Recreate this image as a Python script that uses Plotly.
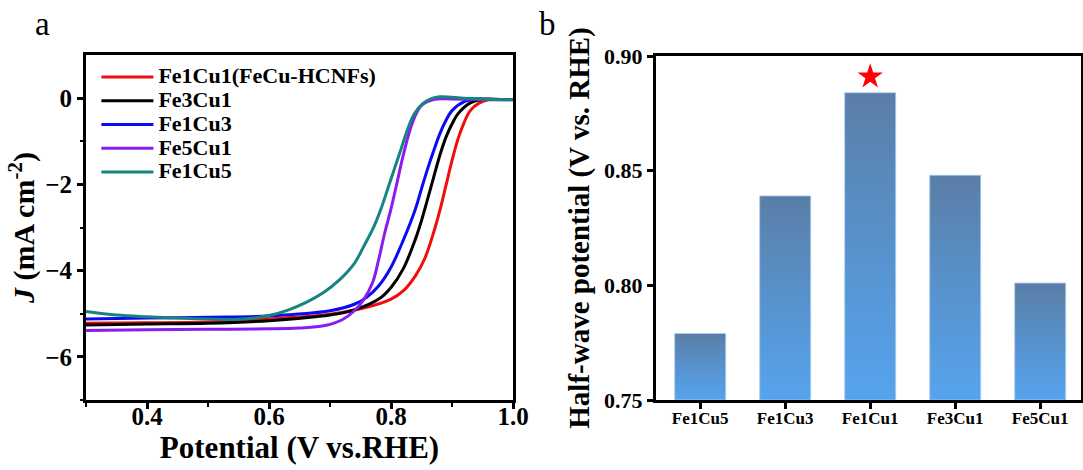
import plotly.graph_objects as go

# ---------------- Panel a: LSV curves (V vs. RHE, mA cm^-2) ----------------
red_name = "Fe1Cu1(FeCu-HCNFs)"
red_v = [0.30, 0.40, 0.50, 0.60, 0.70, 0.76, 0.80, 0.82, 0.84, 0.855, 0.87, 0.88, 0.89, 0.90, 0.91, 0.92, 0.93, 0.945, 0.96, 0.98, 1.00]
red_j = [-5.22, -5.21, -5.19, -5.12, -5.01, -4.85, -4.66, -4.47, -4.12, -3.73, -3.11, -2.61, -2.03, -1.45, -0.94, -0.56, -0.29, -0.11, -0.04, -0.03, -0.03]

black_name = "Fe3Cu1"
black_v = [0.30, 0.40, 0.50, 0.60, 0.70, 0.74, 0.78, 0.80, 0.82, 0.84, 0.85, 0.86, 0.87, 0.88, 0.89, 0.90, 0.91, 0.93, 0.95, 0.98, 1.00]
black_j = [-5.26, -5.24, -5.22, -5.16, -5.03, -4.91, -4.66, -4.39, -3.96, -3.27, -2.84, -2.34, -1.83, -1.33, -0.91, -0.60, -0.36, -0.11, -0.03, -0.03, -0.03]

blue_name = "Fe1Cu3"
blue_v = [0.30, 0.40, 0.50, 0.60, 0.70, 0.74, 0.76, 0.78, 0.80, 0.82, 0.84, 0.85, 0.86, 0.87, 0.88, 0.89, 0.90, 0.92, 0.94, 0.97, 1.00]
blue_j = [-5.12, -5.10, -5.08, -5.05, -4.93, -4.78, -4.62, -4.35, -3.92, -3.30, -2.57, -2.10, -1.64, -1.22, -0.83, -0.52, -0.29, -0.08, -0.02, -0.03, -0.03]

purple_name = "Fe5Cu1"
purple_v = [0.30, 0.40, 0.50, 0.60, 0.65, 0.69, 0.72, 0.74, 0.755, 0.77, 0.78, 0.79, 0.80, 0.81, 0.82, 0.83, 0.84, 0.85, 0.87, 0.90, 0.95, 1.00]
purple_j = [-5.39, -5.37, -5.36, -5.35, -5.33, -5.28, -5.14, -4.93, -4.68, -4.27, -3.73, -3.11, -2.57, -1.95, -1.33, -0.79, -0.40, -0.17, -0.03, -0.02, -0.03, -0.04]

teal_name = "Fe1Cu5"
teal_v = [0.30, 0.35, 0.40, 0.45, 0.50, 0.55, 0.60, 0.63, 0.66, 0.69, 0.715, 0.74, 0.756, 0.7725, 0.7835, 0.7945, 0.8055, 0.8165, 0.8275, 0.8385, 0.852, 0.866, 0.88, 0.92, 0.96, 1.00]
teal_j = [-4.95, -5.03, -5.07, -5.10, -5.12, -5.13, -5.04, -4.92, -4.74, -4.50, -4.22, -3.83, -3.42, -2.96, -2.57, -2.11, -1.64, -1.18, -0.71, -0.36, -0.13, -0.01, 0.03, 0.00, -0.03, -0.04]

# ---------------- Panel b: half-wave potentials (V vs. RHE) ----------------
categories = ["Fe1Cu5", "Fe1Cu3", "Fe1Cu1", "Fe3Cu1", "Fe5Cu1"]
half_wave = [0.779, 0.839, 0.884, 0.848, 0.801]
star_category_index = 2
star_value = 0.891
axis_base = 0.75

FONT = "Liberation Serif"
BAR_HALF = 0.3

fig = go.Figure()

series = [
    (red_name, red_v, red_j, "#f20c0c"),
    (black_name, black_v, black_j, "#000000"),
    (blue_name, blue_v, blue_j, "#0a0af5"),
    (purple_name, purple_v, purple_j, "#8a1cf2"),
    (teal_name, teal_v, teal_j, "#16857f"),
]
for name, v, j, col in series:
    fig.add_trace(go.Scatter(
        x=v, y=j, mode="lines",
        name='<span style="font-size:22px">' + name + "</span>",
        line=dict(color=col, width=3, shape="spline", smoothing=1.0),
        xaxis="x", yaxis="y",
    ))

for i, (cat, val) in enumerate(zip(categories, half_wave)):
    fig.add_trace(go.Scatter(
        x=[i - BAR_HALF, i - BAR_HALF, i + BAR_HALF, i + BAR_HALF, i - BAR_HALF],
        y=[axis_base, val, val, axis_base, axis_base],
        mode="lines", fill="toself",
        line=dict(color="#a8cdf0", width=0.8),
        fillgradient=dict(type="vertical",
                          colorscale=[[0, "#56a4ee"], [0.55, "#5890c9"], [1, "#5a7ea6"]],
                          start=axis_base, stop=val),
        showlegend=False, hoverinfo="skip",
        xaxis="x2", yaxis="y2", name=cat,
    ))

fig.add_trace(go.Scatter(
    x=[star_category_index], y=[star_value], mode="markers",
    marker=dict(symbol="star", size=19, color="#ff0000", line=dict(width=0)),
    showlegend=False, xaxis="x2", yaxis="y2", hoverinfo="skip",
))

tickfont_a = dict(family=FONT, size=25, color="black", weight="bold")
common_axis = dict(showline=True, linewidth=3, linecolor="black", mirror=True,
                   ticks="outside", tickwidth=2.5, ticklen=6, tickcolor="black",
                   showgrid=False, zeroline=False, automargin=False)

fig.update_layout(
    template="none",
    width=1083, height=470,
    margin=dict(l=0, r=0, t=0, b=0),
    paper_bgcolor="white", plot_bgcolor="white",
    showlegend=True,
    legend=dict(x=0.089, y=1 - 60 / 470, xanchor="left", yanchor="top",
                bgcolor="rgba(0,0,0,0)", itemwidth=52, tracegroupgap=0,
                font=dict(family=FONT, size=16, color="black", weight="bold")),
    xaxis=dict(domain=[86 / 1083, 513 / 1083], range=[0.3, 1.0],
               tickvals=[0.4, 0.6, 0.8, 1.0], ticktext=["0.4", "0.6", "0.8", "1.0"],
               minor=dict(ticks="outside", ticklen=3.5, tickwidth=2, tickcolor="black",
                          tickvals=[0.3, 0.5, 0.7, 0.9]),
               tickfont=tickfont_a, ticklabelstandoff=-14,
               title=dict(text="Potential (V vs.RHE)", standoff=1,
                          font=dict(family=FONT, size=31, color="black", weight="bold")),
               anchor="y", **common_axis),
    yaxis=dict(domain=[1 - 400 / 470, 1 - 55 / 470], range=[-7, 1],
               tickvals=[0, -2, -4, -6],
               minor=dict(ticks="outside", ticklen=3.5, tickwidth=2, tickcolor="black",
                          tickvals=[-1, -3, -5, -7]),
               tickfont=tickfont_a,
               title=dict(text="<i>J</i> (mA cm<sup>-2</sup>)", standoff=2,
                          font=dict(family=FONT, size=30, color="black", weight="bold")),
               anchor="x", **common_axis),
    xaxis2=dict(domain=[656 / 1083, 1081 / 1083], range=[-0.52, 4.48],
                tickvals=list(range(len(categories))), ticktext=categories,
                tickfont=dict(family=FONT, size=17, color="black", weight="bold"),
                ticklabelstandoff=-5,
                anchor="y2", **common_axis),
    yaxis2=dict(domain=[1 - 400 / 470, 1 - 56 / 470], range=[0.75, 0.90],
                tickvals=[0.75, 0.80, 0.85, 0.90], tickformat=".2f",
                tickfont=dict(family=FONT, size=22, color="black", weight="bold"),
                title=dict(text="Half-wave potential (V vs. RHE)", standoff=6,
                           font=dict(family=FONT, size=29, color="black", weight="bold")),
                anchor="x2", **common_axis),
    annotations=[
        dict(text="a", x=42 / 1083, y=1 - 24 / 470, xref="paper", yref="paper",
             xanchor="center", yanchor="middle",
             showarrow=False, font=dict(family=FONT, size=33, color="black")),
        dict(text="b", x=547 / 1083, y=1 - 24 / 470, xref="paper", yref="paper",
             xanchor="center", yanchor="middle",
             showarrow=False, font=dict(family=FONT, size=33, color="black")),
    ],
)

fig.write_html("out.html")
